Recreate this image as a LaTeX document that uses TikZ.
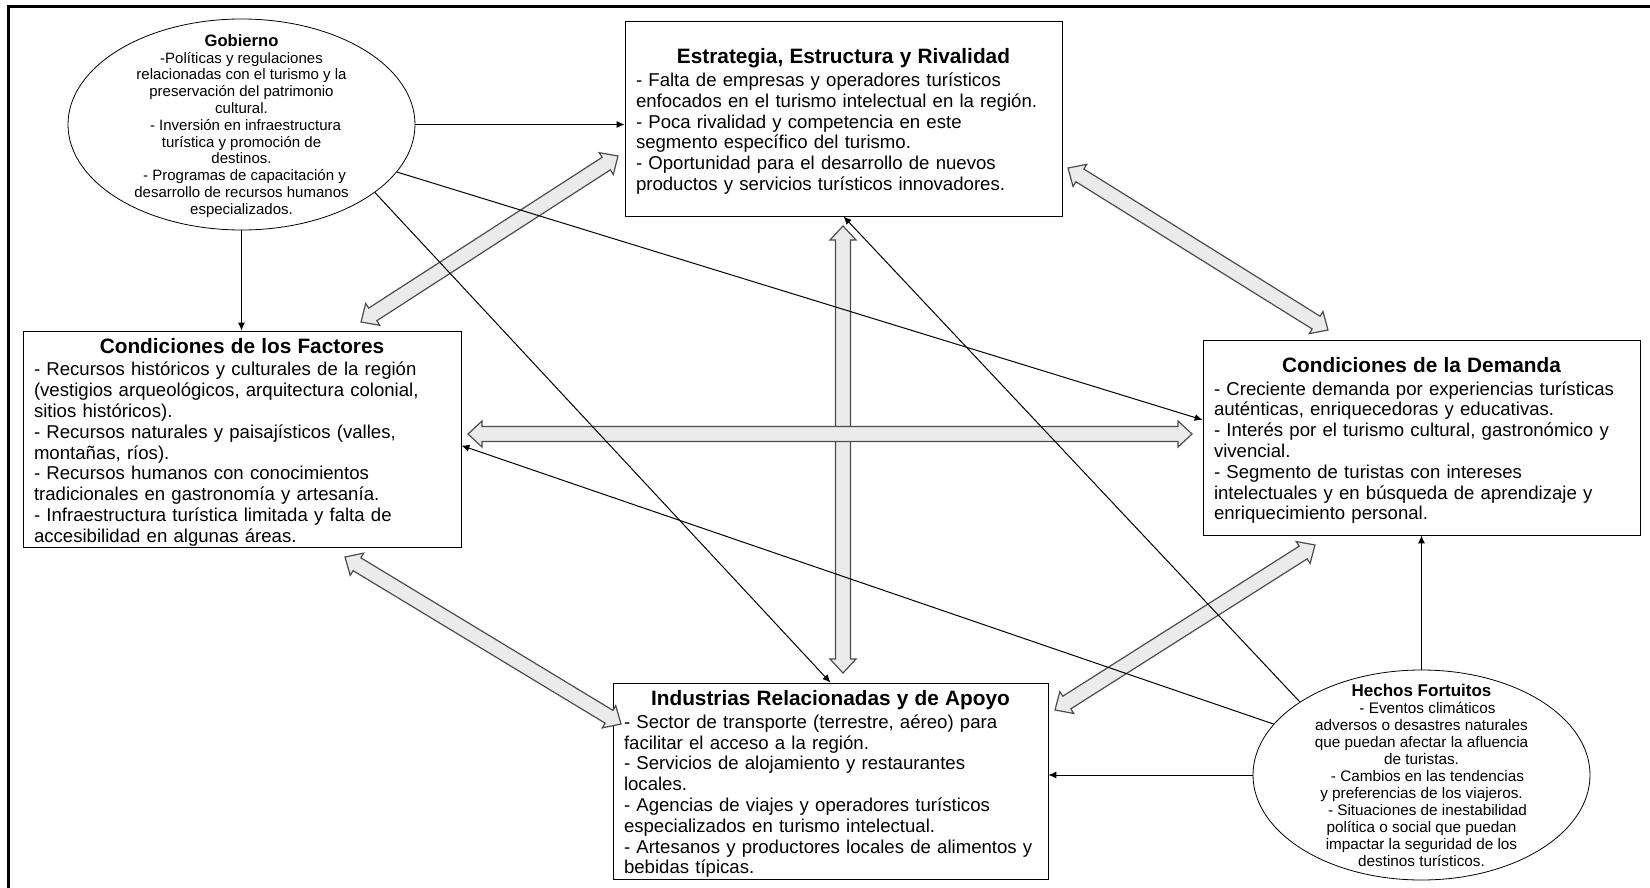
\documentclass[tikz,border=0pt]{standalone}
\usepackage{fontspec}
\setmainfont{Liberation Sans}
\usetikzlibrary{calc,shapes.geometric,arrows.meta}

\tikzset{
  factorbox/.style={draw, rectangle, fill=white, inner xsep=5.5pt, inner ysep=0pt, align=left, font=\fontsize{9.3}{10.4}\selectfont},
  oval/.style={draw, ellipse, fill=white, inner sep=0pt},
  conn/.style={-{Latex[length=4pt,width=3.5pt]}, line width=0.5pt},
  blockarrow/.style={fill=black!8, draw=black!70, line width=0.6pt, line join=miter}
}
\newcommand\boxtitle[1]{\makebox[\linewidth][c]{\rule{0pt}{10.6pt}\fontsize{10.4}{10}\selectfont\bfseries #1}\\[1pt]}
\newcommand\ovaltext[1]{\makebox[0pt]{\smash{\raisebox{-2.4pt}{\parbox[c]{130pt}{\centering #1}}}}}

\begin{document}
\begin{tikzpicture}[x=0.5pt,y=-0.5pt]
  \newcommand\headl{7pt}
  \newcommand\shaftw{3.75pt}
  \newcommand\headw{6.5pt}
  \newcommand\dblarrow[2]{%
    \filldraw[blockarrow] ($(#1)!\headl!(#2)!\shaftw!90:(#2)$) -- ($(#1)!\headl!(#2)!\headw!90:(#2)$) -- (#1)
      -- ($(#1)!\headl!(#2)!\headw!-90:(#2)$) -- ($(#1)!\headl!(#2)!\shaftw!-90:(#2)$)
      -- ($(#2)!\headl!(#1)!\shaftw!90:(#1)$) -- ($(#2)!\headl!(#1)!\headw!90:(#1)$) -- (#2)
      -- ($(#2)!\headl!(#1)!\headw!-90:(#1)$) -- ($(#2)!\headl!(#1)!\shaftw!-90:(#1)$) -- cycle;}
  \useasboundingbox (0,0) rectangle (1650,888);
  \draw[line width=1.5pt](8.5,888)--(8.5,7)--(1650,7);

  % the four boxes
  \node[factorbox, text width=207.5pt, minimum height=97.5pt] (est) at (843.5,118.5) {\boxtitle{Estrategia, Estructura y Rivalidad}
    - Falta de empresas y operadores turísticos\\
    enfocados en el turismo intelectual en la región.\\
    - Poca rivalidad y competencia en este\\
    segmento específico del turismo.\\
    - Oportunidad para el desarrollo de nuevos\\
    productos y servicios turísticos innovadores.};
  \node[factorbox, text width=208pt, minimum height=108pt] (fac) at (242,439) {\boxtitle{Condiciones de los Factores}
    - Recursos históricos y culturales de la región\\
    (vestigios arqueológicos, arquitectura colonial,\\
    sitios históricos).\\
    - Recursos naturales y paisajísticos (valles,\\
    montañas, ríos).\\
    - Recursos humanos con conocimientos\\
    tradicionales en gastronomía y artesanía.\\
    - Infraestructura turística limitada y falta de\\
    accesibilidad en algunas áreas.};
  \node[factorbox, text width=207.5pt, minimum height=97.5pt] (dem) at (1421.5,437.5) {\boxtitle{Condiciones de la Demanda}
    - Creciente demanda por experiencias turísticas\\
    auténticas, enriquecedoras y educativas.\\
    - Interés por el turismo cultural, gastronómico y\\
    vivencial.\\
    - Segmento de turistas con intereses\\
    intelectuales y en búsqueda de aprendizaje y\\
    enriquecimiento personal.};
  \node[factorbox, text width=206.5pt, minimum height=98pt] (ind) at (830.5,781) {\boxtitle{Industrias Relacionadas y de Apoyo}
    - Sector de transporte (terrestre, aéreo) para\\
    facilitar el acceso a la región.\\
    - Servicios de alojamiento y restaurantes\\
    locales.\\
    - Agencias de viajes y operadores turísticos\\
    especializados en turismo intelectual.\\
    - Artesanos y productores locales de alimentos y\\
    bebidas típicas.};

  % the two ovals
  \node[oval, minimum width=173.5pt, minimum height=105.5pt, font=\fontsize{7.5}{8.4}\selectfont] (gob) at (241.5,124.5) {\ovaltext{%
    {\fontsize{8.3}{8.4}\selectfont\bfseries Gobierno}\\
    -Políticas y regulaciones\\
    relacionadas con el turismo y la\\
    preservación del patrimonio\\
    cultural.\\
    \hspace*{4pt}- Inversión en infraestructura\\
    turística y promoción de\\
    destinos.\\
    \hspace*{3pt}- Programas de capacitación y\\
    desarrollo de recursos humanos\\
    especializados.}};
  \node[oval, minimum width=168.5pt, minimum height=105pt, font=\fontsize{7.65}{8.5}\selectfont] (hec) at (1421.5,775) {\ovaltext{%
    {\fontsize{8.5}{8.5}\selectfont\bfseries Hechos Fortuitos}\\
    \hspace*{6pt}- Eventos climáticos\\
    adversos o desastres naturales\\
    que puedan afectar la afluencia\\
    de turistas.\\
    \hspace*{6pt}- Cambios en las tendencias\\
    y preferencias de los viajeros.\\
    \hspace*{6pt}- Situaciones de inestabilidad\\
    política o social que puedan\\
    impactar la seguridad de los\\
    destinos turísticos.}};

  % ends of the wide arrows
  \coordinate (fe1) at (361,322);  \coordinate (fe2) at (618,156);
  \coordinate (ed1) at (1068,168); \coordinate (ed2) at (1328,330);
  \coordinate (ei1) at (843,226);  \coordinate (ei2) at (843,673);
  \coordinate (fd1) at (468,434);  \coordinate (fd2) at (1192,434);
  \coordinate (fi1) at (345,557);  \coordinate (fi2) at (621,724);
  \coordinate (di1) at (1315,545); \coordinate (di2) at (1055,710);

  \dblarrow{fe1}{fe2}
  \dblarrow{ed1}{ed2}
  \dblarrow{ei1}{ei2}
  \dblarrow{fd1}{fd2}
  \dblarrow{fi1}{fi2}
  \dblarrow{di1}{di2}

  % government and chance
  \draw[conn](gob.east)--(gob.east -| est.west);
  \draw[conn](gob.south)--(gob.south |- fac.north);
  \draw[conn](gob.-17)--($(dem.north west)!0.41!(dem.south west)$);
  \draw[conn](gob.-27)--(ind.north);
  \draw[conn](hec.north)--(hec.north |- dem.south);
  \draw[conn](hec.west)--(hec.west -| ind.east);
  \draw[conn](hec.161)--($(fac.north east)!0.53!(fac.south east)$);
  \draw[conn](hec.149)--(est.south);
\end{tikzpicture}
\end{document}
